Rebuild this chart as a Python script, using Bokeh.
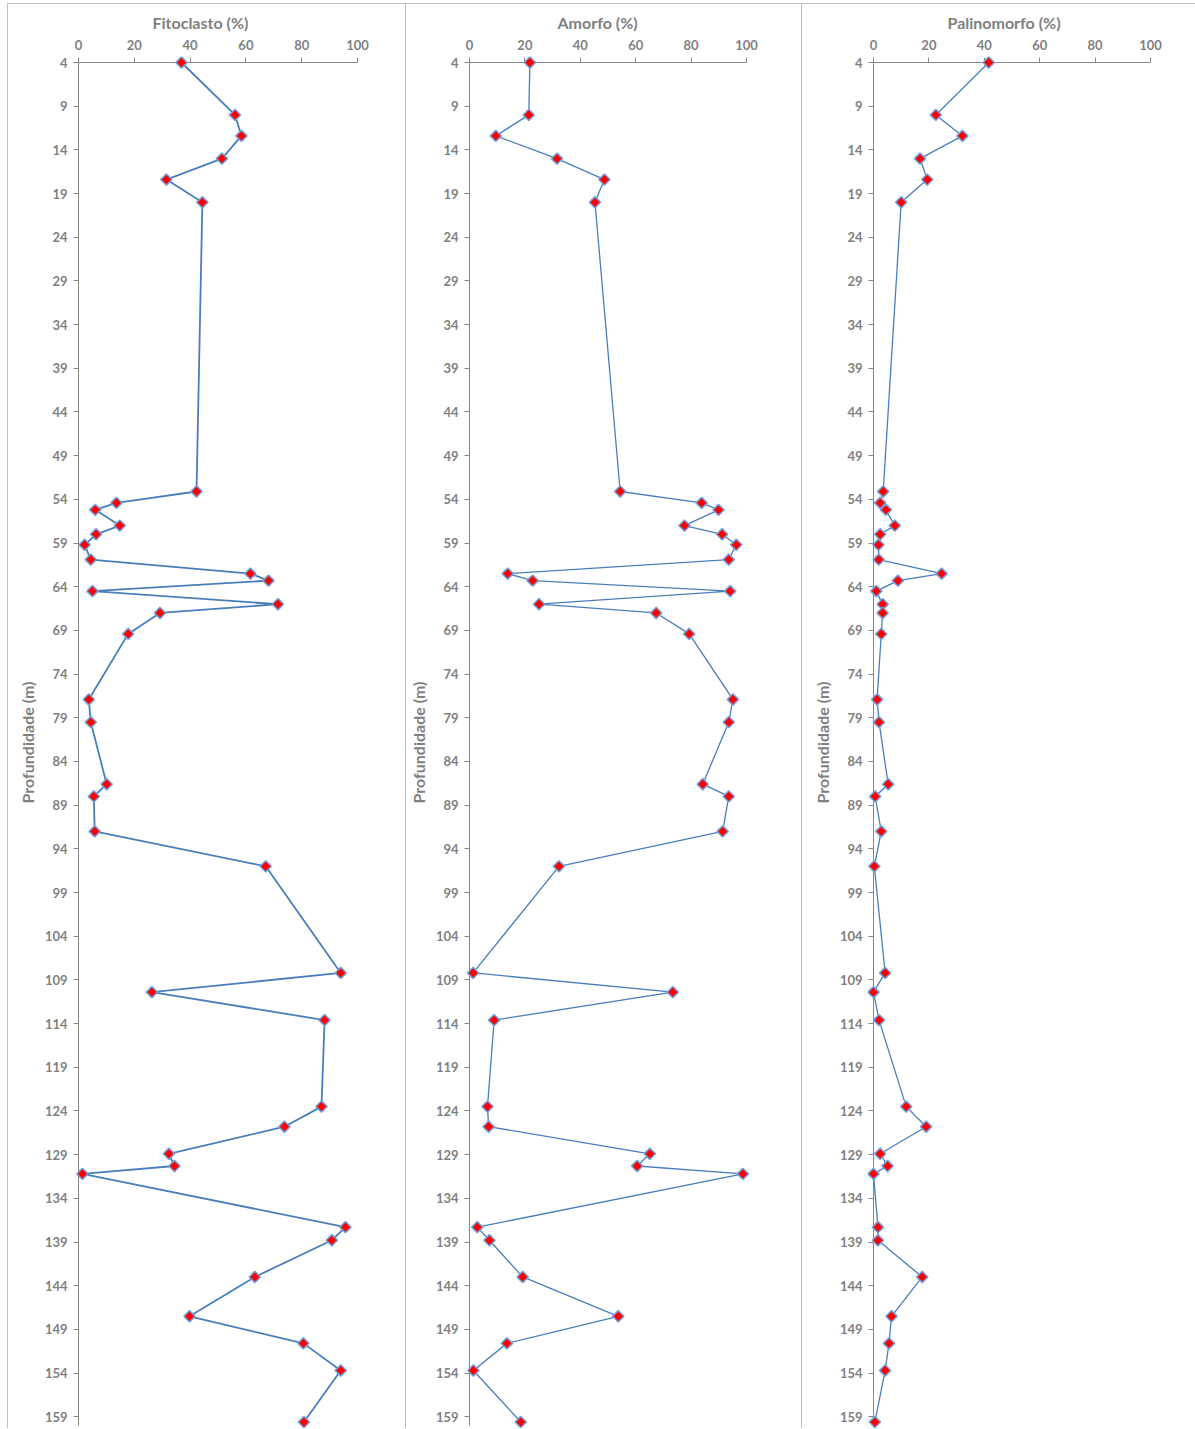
import math
from bokeh.plotting import figure
from bokeh.models import Range1d, FixedTicker, Title, LinearAxis
from bokeh.layouts import row
from bokeh.embed import file_html
from bokeh.resources import INLINE

# ---------------- data ----------------
depth = [4, 10, 12.4, 15, 17.4, 20, 53.1, 54.4, 55.2, 57.0, 58.0, 59.2, 60.9,
         62.5, 63.3, 64.5, 66.0, 67.0, 69.4, 76.9, 79.5, 86.6, 88.0, 92.0,
         96.0, 108.2, 110.4, 113.6, 123.5, 125.8, 128.9, 130.3, 131.2, 137.3,
         138.8, 143.0, 147.5, 150.6, 153.7, 159.6]

fitoclasto = [36.9, 56.1, 58.4, 51.4, 31.5, 44.4, 42.3, 13.6, 6.0, 14.8, 6.3,
              2.2, 4.4, 61.6, 68.1, 5.0, 71.5, 29.2, 17.8, 3.7, 4.4, 10.1, 5.5,
              5.8, 67.1, 94.0, 26.3, 88.2, 87.1, 73.8, 32.4, 34.4, 1.4, 95.7,
              90.8, 63.2, 39.8, 80.6, 94.0, 80.8]

amorfo = [21.8, 21.4, 9.5, 31.6, 48.7, 45.3, 54.4, 83.8, 89.9, 77.6, 91.2,
          96.3, 93.6, 13.8, 22.8, 94.1, 25.1, 67.4, 79.3, 95.1, 93.6, 84.2,
          93.6, 91.4, 32.3, 1.3, 73.4, 8.9, 6.5, 6.9, 65.1, 60.5, 98.7, 2.8,
          7.2, 19.2, 53.7, 13.5, 1.4, 18.5]

palinomorfo = [41.6, 22.5, 32.1, 16.8, 19.4, 10.0, 3.5, 2.4, 4.5, 7.7, 2.4,
               1.8, 1.9, 24.6, 8.8, 1.0, 3.3, 3.3, 2.8, 1.3, 2.0, 5.3, 0.6,
               2.8, 0.3, 4.2, 0.0, 2.0, 11.8, 19.0, 2.4, 5.1, 0.0, 1.6, 1.6,
               17.6, 6.5, 5.6, 4.2, 0.5]

titles = ["Fitoclasto (%)", "Amorfo (%)", "Palinomorfo (%)"]
y_label = "Profundidade (m)"
depth_ticks = list(range(4, 160, 5))
pct_ticks = [0, 20, 40, 60, 80, 100]
depth_min, depth_max = 4, 160
pct_min, pct_max = 0, 100

# ---------------- style / geometry ----------------
TEXT = "#7F7F7F"
AXIS = "#868686"
BORDER = "#BFBFBF"
LINE = "#4A7EBB"
MARK_LINE = "#6FA0DC"
FONT = "Lato"
HEIGHT = 1428
PAD = 6            # px of frame kept beyond the axes so markers are not clipped
AXIS_TOP = 62      # px of the top (x) axis line
AXIS_SPAN_Y = 1363 # px between depth 4 and depth 160
TICK = 5


def border_styles(vx):
    g = f"linear-gradient({BORDER}, {BORDER})"
    return {
        "background-image": f"{g}, {g}",
        "background-size": "1px 100%, 100% 1px",
        "background-position": f"{vx}px 3px, {vx}px 3px",
        "background-repeat": "no-repeat",
    }


def label_style(ax):
    ax.axis_line_color = None
    ax.major_tick_line_color = None
    ax.minor_tick_line_color = None
    ax.major_tick_out = 0
    ax.major_tick_in = 0
    ax.minor_tick_out = 0
    ax.minor_tick_in = 0
    ax.major_label_text_color = TEXT
    ax.major_label_text_font = FONT
    ax.major_label_text_font_style = "bold"
    ax.major_label_text_font_size = "13px"


def rule_axis(ticks, loc, bounds):
    ax = LinearAxis(ticker=FixedTicker(ticks=ticks), fixed_location=loc,
                    bounds=bounds, axis_line_color=AXIS, axis_line_width=1,
                    major_tick_line_color=AXIS, major_tick_out=TICK,
                    major_tick_in=0, minor_tick_line_color=None,
                    major_label_overrides={t: "" for t in ticks},
                    level="underlay")
    return ax


def make_panel(title, values, width, x0, span, title_offset, lw, vx):
    kx = span / (pct_max - pct_min)
    ky = AXIS_SPAN_Y / (depth_max - depth_min)
    left = x0 - PAD
    right = width - (x0 + span) - PAD
    top = AXIS_TOP - PAD
    frame_h = HEIGHT - top
    y_top = depth_min - PAD / ky
    y_bot = depth_min + (frame_h - PAD) / ky
    p = figure(width=width, height=HEIGHT, output_backend="svg",
               toolbar_location=None, title=None,
               x_range=Range1d(pct_min - PAD / kx, pct_max + PAD / kx),
               y_range=Range1d(y_bot, y_top),
               x_axis_location="above",
               min_border_left=left, min_border_right=right,
               min_border_top=top, min_border_bottom=0,
               border_fill_color=None, background_fill_color=None,
               outline_line_color=None)
    p.styles = border_styles(vx)
    p.grid.visible = False

    # label-only axes at the frame edges
    xa = p.xaxis[0]
    xa.ticker = FixedTicker(ticks=pct_ticks)
    ya = p.yaxis[0]
    ya.ticker = FixedTicker(ticks=depth_ticks)
    label_style(xa)
    label_style(ya)
    xa.major_label_standoff = TICK + 8 - PAD
    ya.major_label_standoff = TICK + 6 - PAD
    ya.axis_label = y_label
    ya.axis_label_text_color = TEXT
    ya.axis_label_text_font = FONT
    ya.axis_label_text_font_style = "bold"
    ya.axis_label_text_font_size = "16px"
    ya.axis_label_standoff = 5

    # axis lines + tick marks at depth 4 / value 0, drawn under the data
    p.add_layout(rule_axis(pct_ticks, depth_min, (pct_min, pct_max)), "above")
    p.add_layout(rule_axis(depth_ticks, pct_min, (depth_min, depth_max)), "left")

    p.add_layout(Title(text=title, align="left", offset=title_offset + PAD,
                       text_color=TEXT, text_font=FONT, text_font_style="bold",
                       text_font_size="16px", standoff=10), "above")

    p.line(values, depth, line_color=LINE, line_width=lw)
    p.scatter(values, depth, marker="square", angle=math.pi / 4, size=8,
              fill_color="#FF0000", line_color=MARK_LINE, line_width=1.5)
    return p


p1 = make_panel(titles[0], fitoclasto, 405, 78, 279, 74, 1.8, 7)
p2 = make_panel(titles[1], amorfo, 396, 64, 277, 88, 1.3, 0)
p3 = make_panel(titles[2], palinomorfo, 394, 72, 277, 74, 1.3, 0)

layout = row(p1, p2, p3, spacing=0)
open("out.html", "w").write(file_html(layout, INLINE))
